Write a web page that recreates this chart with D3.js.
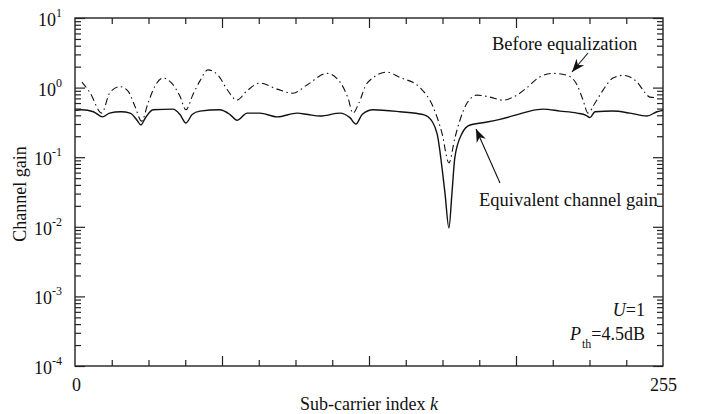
<!DOCTYPE html>
<html lang="en">
<head>
<meta charset="utf-8" />
<script src="https://d3js.org/d3.v7.min.js"></script>
<style>
    body { margin: 0; background: #fff; }
    svg text { font-family: 'Liberation Serif', 'Times New Roman', serif; fill: #111; }
</style>
</head>
<body>
<div id="chart"></div>
<script>
// sub-carrier index / gain
var kEq = [0, 3, 8, 12, 15, 20, 24, 27, 28.7, 30.5, 34, 42.7, 45.7, 48.3, 51, 54.4, 63, 67.5, 70.5, 75, 80.5, 88, 96.7, 101.4,
    106.7, 115.4, 119.7, 122.3, 125, 129.7, 141.5, 151.5, 153.7, 157.6, 159.8, 161.1, 162.8, 164.1, 165.4, 168.5, 172,
    179.4, 185, 193.7, 198, 203.8, 211.2, 218.6, 222.5, 224.2, 226.4, 234.2, 241.6, 249, 253.4, 256];
var gainEq = [0.47, 0.48, 0.45, 0.38, 0.43, 0.45, 0.43, 0.34, 0.29, 0.36, 0.48, 0.49, 0.41, 0.31, 0.41, 0.46, 0.48, 0.41, 0.34, 0.43, 0.43, 0.38, 0.43, 0.41,
    0.39, 0.43, 0.37, 0.30, 0.41, 0.48, 0.45, 0.41, 0.38, 0.22, 0.07, 0.03, 0.0096, 0.03, 0.10, 0.22, 0.29,
    0.32, 0.35, 0.42, 0.46, 0.49, 0.46, 0.43, 0.40, 0.37, 0.45, 0.46, 0.43, 0.39, 0.45, 0.47];

var kBefore = [3, 6.5, 11.6, 15.2, 19.6, 23, 26, 29, 31.8, 34.8, 38.3, 42.2, 45.7, 48.3, 51.4, 54.4, 57.9, 62.3, 66.6, 70.4,
    74.9, 80.5, 88, 94.9, 101, 109.7, 115.4, 118.9, 121, 123.6, 127.1, 135.8, 141.5, 150.2, 155.9, 159.8, 162.8, 165.4,
    167.6, 170.7, 175, 180.7, 186.3, 192.4, 196.8, 201.6, 208.1, 214.2, 218.6, 221.2, 223.3, 226.4, 229.9, 234.2, 238.6,
    244.7, 248.2, 250.3, 252.5];
var gainBefore = [1.2, 0.85, 0.43, 0.85, 1.03, 0.9, 0.55, 0.33, 0.6, 1.05, 1.37, 1.15, 0.75, 0.48, 0.8, 1.25, 1.8, 1.5, 0.9, 0.66,
    0.9, 1.16, 0.95, 0.83, 1.09, 1.6, 1.2, 0.7, 0.43, 0.6, 1.15, 1.67, 1.4, 1.0, 0.53, 0.22, 0.083, 0.19,
    0.34, 0.6, 0.78, 0.73, 0.66, 0.78, 1.0, 1.37, 1.6, 1.5, 1.09, 0.66, 0.43, 0.6, 0.92, 1.37, 1.5,
    1.2, 0.84, 0.73, 0.72];

var yDecades = [-4, -3, -2, -1, 0, 1];
var xLabels = ["0", "255"];

var W = 702, H = 414;
var mLeft = 75, mRight = 663, mTop = 18, mBottom = 366;

var svg = d3.select("#chart").append("svg").attr("width", W).attr("height", H);

var x = d3.scaleLinear().domain([0, 256]).range([mLeft, mRight]);
var y = d3.scaleLog().domain([1e-4, 10]).range([mBottom, mTop]);

var xMinor = d3.range(16, 256, 16).filter(function (d) { return d % 64 != 0; });
var xMajor = [64, 128, 192];
var yMajor = yDecades.map(function (e) { return Math.pow(10, e); });
var yMinor = [];
yDecades.slice(0, -1).forEach(function (e) {
    for (var m = 2; m < 10; m++) yMinor.push(m * Math.pow(10, e));
});

function tickAxis(axis, vals, size, tr) {
    var g = svg.append("g").attr("transform", tr)
        .call(axis.tickValues(vals).tickSize(size).tickFormat(""));
    g.select(".domain").remove();
    g.selectAll("line").attr("stroke", "#222").attr("stroke-width", 1.2);
}
tickAxis(d3.axisBottom(x), xMinor, -6, "translate(0," + mBottom + ")");
tickAxis(d3.axisBottom(x), xMajor, -10, "translate(0," + mBottom + ")");
tickAxis(d3.axisTop(x), xMinor, -6, "translate(0," + mTop + ")");
tickAxis(d3.axisTop(x), xMajor, -10, "translate(0," + mTop + ")");
tickAxis(d3.axisLeft(y), yMinor, -6, "translate(" + mLeft + ",0)");
tickAxis(d3.axisLeft(y), yMajor, -10, "translate(" + mLeft + ",0)");
tickAxis(d3.axisRight(y), yMinor, -6, "translate(" + mRight + ",0)");
tickAxis(d3.axisRight(y), yMajor, -10, "translate(" + mRight + ",0)");

svg.append("rect").attr("x", mLeft).attr("y", mTop).attr("width", mRight - mLeft).attr("height", mBottom - mTop)
    .attr("fill", "none").attr("stroke", "#222").attr("stroke-width", 1.4);

// y labels 10^n
yDecades.forEach(function (e) {
    var t = svg.append("text").attr("x", 62).attr("y", y(Math.pow(10, e)) + 8)
        .attr("text-anchor", "end").style("font-size", "18px");
    t.append("tspan").text("10");
    t.append("tspan").attr("dy", -9).style("font-size", "12px").text(e);
});

// x labels sit at both ends of the axis
xLabels.forEach(function (d, i) {
    svg.append("text").attr("x", x.range()[i] + (i ? 0.5 : 1.5)).attr("y", 391).attr("text-anchor", "middle")
        .style("font-size", "18px").text(d);
});

var xl = svg.append("text").attr("x", 369).attr("y", 410).attr("text-anchor", "middle").style("font-size", "18px");
xl.append("tspan").text("Sub-carrier index ");
xl.append("tspan").style("font-style", "italic").text("k");

svg.append("text").attr("transform", "translate(26," + 194 + ") rotate(-90)")
    .attr("text-anchor", "middle").style("font-size", "18px").text("Channel gain");

var line = d3.line().x(function (d) { return x(d[0]); }).y(function (d) { return y(d[1]); }).curve(d3.curveMonotoneX);

svg.append("path").datum(d3.zip(kBefore, gainBefore)).attr("d", line)
    .attr("fill", "none").attr("stroke", "#111").attr("stroke-width", 1.1)
    .attr("stroke-dasharray", "7,3.5,1.5,3.5");
svg.append("path").datum(d3.zip(kEq, gainEq)).attr("d", line)
    .attr("fill", "none").attr("stroke", "#111").attr("stroke-width", 1.4);

// annotations
function arrow(x1, y1, x2, y2) {
    svg.append("line").attr("x1", x1).attr("y1", y1).attr("x2", x2).attr("y2", y2)
        .attr("stroke", "#111").attr("stroke-width", 1.1);
    var a = Math.atan2(y2 - y1, x2 - x1), L = 13, wd = 5;
    var bx = x2 - L * Math.cos(a), by = y2 - L * Math.sin(a);
    var nx = x2 - 0.7 * L * Math.cos(a), ny = y2 - 0.7 * L * Math.sin(a);
    var px = -Math.sin(a) * wd, py = Math.cos(a) * wd;
    svg.append("path").attr("d", "M" + x2 + "," + y2 + "L" + (bx + px) + "," + (by + py) + "L" + nx + "," + ny +
        "L" + (bx - px) + "," + (by - py) + "Z").attr("fill", "#111");
}

svg.append("text").attr("x", 492).attr("y", 50).style("font-size", "18.5px").text("Before equalization");
arrow(588, 53, 572, 72);

svg.append("text").attr("x", 479).attr("y", 206).style("font-size", "18.5px").text("Equivalent channel gain");
arrow(500, 183, 476, 129);

var u = svg.append("text").attr("x", 645).attr("y", 316).attr("text-anchor", "end").style("font-size", "18px");
u.append("tspan").style("font-style", "italic").text("U");
u.append("tspan").text("=1");

var p = svg.append("text").attr("x", 645).attr("y", 340).attr("text-anchor", "end").style("font-size", "18px");
p.append("tspan").style("font-style", "italic").text("P");
p.append("tspan").attr("dy", 8).attr("dx", 1).style("font-size", "12px").text("th");
p.append("tspan").attr("dy", -8).text("=4.5dB");
</script>
</body>
</html>
